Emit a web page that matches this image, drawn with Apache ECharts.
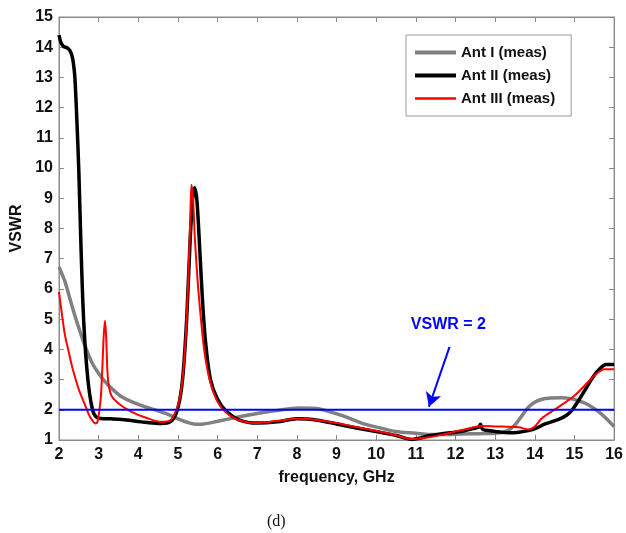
<!DOCTYPE html>
<html>
<head>
<meta charset="utf-8">
<script src="https://cdn.jsdelivr.net/npm/echarts@6/dist/echarts.min.js"></script>
<style>
html,body{margin:0;padding:0;background:#fff;}
#c{width:626px;height:533px;}
</style>
</head>
<body>
<div id="c"></div>
<script>
// ---- data ----
const seriesNames = ['Ant I (meas)', 'Ant II (meas)', 'Ant III (meas)'];
const xTicks = [2,3,4,5,6,7,8,9,10,11,12,13,14,15,16];
const yTicks = [1,2,3,4,5,6,7,8,9,10,11,12,13,14,15];

const antI_x = [2, 2.15, 2.32, 2.49, 2.65, 2.82, 3.0, 3.24, 3.58, 4.0, 4.42, 4.75, 5.08, 5.3, 5.45, 5.65, 5.97, 6.55, 7.0, 7.5, 8.06, 8.5, 8.82, 9.2, 9.65, 10.1, 10.49, 11.0, 11.33, 11.7, 12.17, 12.6, 13.01, 13.3, 13.5, 13.7, 13.85, 14.0, 14.18, 14.4, 14.68, 14.9, 15.1, 15.3, 15.52, 15.75, 16];
const antI_y = [6.73, 6.24, 5.47, 4.75, 4.14, 3.59, 3.2, 2.82, 2.43, 2.18, 2.0, 1.85, 1.66, 1.56, 1.52, 1.53, 1.61, 1.77, 1.88, 1.98, 2.06, 2.04, 1.94, 1.78, 1.55, 1.4, 1.28, 1.22, 1.18, 1.18, 1.2, 1.21, 1.22, 1.3, 1.5, 1.85, 2.1, 2.25, 2.35, 2.39, 2.4, 2.37, 2.3, 2.2, 2.02, 1.78, 1.44];

const antII_x = [2.0, 2.05, 2.12, 2.2, 2.27, 2.32, 2.36, 2.40, 2.45, 2.50, 2.55, 2.60, 2.65, 2.70, 2.75, 2.80, 2.87, 2.95, 3.05, 3.3, 3.6, 4.08, 4.5, 4.76, 4.92, 5.04, 5.13, 5.22, 5.30, 5.37, 5.42, 5.48, 5.55, 5.62, 5.70, 5.82, 6.0, 6.22, 6.55, 7.0, 7.5, 8.0, 8.4, 9.0, 9.5, 10.07, 10.5, 10.91, 11.1, 11.33, 11.55, 11.75, 12.0, 12.2, 12.45, 12.58, 12.63, 12.68, 12.78, 13.0, 13.34, 13.6, 13.84, 14.05, 14.26, 14.6, 14.8, 14.94, 15.1, 15.27, 15.45, 15.61, 15.8, 16];
const antII_y = [14.4, 14.15, 14.02, 13.98, 13.9, 13.75, 13.5, 13.0, 11.6, 9.9, 7.6, 5.6, 4.3, 3.4, 2.75, 2.3, 1.9, 1.75, 1.71, 1.7, 1.68, 1.6, 1.55, 1.58, 1.78, 2.3, 3.2, 5.0, 7.4, 9.0, 9.35, 8.9, 7.3, 5.6, 4.2, 3.0, 2.35, 1.95, 1.66, 1.56, 1.6, 1.7, 1.68, 1.53, 1.4, 1.26, 1.15, 1.02, 1.06, 1.14, 1.18, 1.22, 1.26, 1.3, 1.38, 1.42, 1.52, 1.36, 1.32, 1.28, 1.24, 1.26, 1.31, 1.4, 1.53, 1.68, 1.82, 1.99, 2.3, 2.66, 3.05, 3.32, 3.5, 3.5];

const antIII_x = [2.0, 2.08, 2.15, 2.24, 2.32, 2.41, 2.49, 2.58, 2.66, 2.72, 2.78, 2.85, 2.91, 2.97, 3.02, 3.06, 3.1, 3.13, 3.16, 3.19, 3.22, 3.26, 3.33, 3.5, 3.83, 4.25, 4.58, 4.8, 4.96, 5.05, 5.13, 5.2, 5.26, 5.31, 5.34, 5.38, 5.43, 5.5, 5.58, 5.66, 5.78, 5.95, 6.15, 6.5, 7.0, 7.56, 8.0, 8.4, 9.0, 9.24, 10.07, 10.5, 10.91, 11.33, 11.75, 12.17, 12.67, 13.0, 13.59, 13.84, 14.0, 14.18, 14.52, 15.02, 15.52, 15.77, 16];
const antIII_y = [5.9, 5.1, 4.47, 3.95, 3.48, 3.05, 2.71, 2.4, 2.15, 1.95, 1.77, 1.63, 1.55, 1.6, 2.0, 2.5, 3.6, 4.5, 4.95, 4.4, 3.3, 2.75, 2.45, 2.21, 1.93, 1.71, 1.6, 1.64, 1.99, 2.4, 3.2, 4.5, 6.3, 8.3, 9.45, 9.0, 7.6, 6.2, 5.0, 4.0, 3.1, 2.4, 1.99, 1.68, 1.56, 1.64, 1.7, 1.68, 1.56, 1.5, 1.28, 1.16, 1.03, 1.09, 1.2, 1.33, 1.46, 1.45, 1.42, 1.35, 1.45, 1.72, 2.02, 2.49, 3.15, 3.34, 3.34];

const refLine_x = [2, 16];
const refLine_y = [2, 2];
const refLabel = 'VSWR = 2';
const refLabelPos = [11.82, 4.82];
const arrowFrom = [11.85, 4.08];
const arrowTo = [11.33, 2.1];

const zip = (xs, ys) => xs.map((x, i) => [x, ys[i]]);

const axisGray = '#8a8a8a';
const colors = ['#808080', '#000000', '#ff0000'];
const widths = [3.5, 3.5, 2];
const tickFont = {fontFamily: 'Liberation Sans, Arial, sans-serif', fontWeight: 'bold', fontSize: 16, color: '#111'};

const chart = echarts.init(document.getElementById('c'), null, {renderer: 'canvas'});
chart.setOption({
  animation: false,
  backgroundColor: '#fff',
  title: {
    text: '(d)',
    left: 262, top: 509,
    textStyle: {fontFamily: 'Liberation Serif, Times New Roman, serif', fontWeight: 'normal', fontSize: 16, color: '#111'}
  },
  grid: {left: 59, right: 10, top: 17, bottom: 93, show: true, borderColor: axisGray, borderWidth: 1},
  legend: {
    data: seriesNames.map((n, i) => ({name: n, lineStyle: {width: widths[i] + 0.5, color: colors[i]}})),
    orient: 'vertical',
    left: 406, top: 35,
    padding: [10, 16, 10, 7],
    itemGap: 8,
    itemWidth: 41, itemHeight: 14,
    backgroundColor: '#fff',
    borderColor: '#999', borderWidth: 1,
    itemStyle: {opacity: 0},
    textStyle: {fontFamily: 'Liberation Sans, Arial, sans-serif', fontWeight: 'bold', fontSize: 15, color: '#111'}
  },
  xAxis: [{
    type: 'value', min: 2, max: 16, interval: 1,
    name: 'frequency, GHz', nameLocation: 'middle', nameGap: 30,
    nameTextStyle: {fontFamily: 'Liberation Sans, Arial, sans-serif', fontWeight: 'bold', fontSize: 16, color: '#111'},
    axisLine: {show: true, lineStyle: {color: axisGray}},
    axisTick: {show: true, inside: true, length: 5, lineStyle: {color: axisGray}},
    axisLabel: Object.assign({margin: 7}, tickFont),
    splitLine: {show: false}
  }, {
    type: 'value', min: 2, max: 16, interval: 1, position: 'top',
    axisLine: {show: true, lineStyle: {color: axisGray}},
    axisTick: {show: true, inside: true, length: 5, lineStyle: {color: axisGray}},
    axisLabel: {show: false}, splitLine: {show: false}
  }],
  yAxis: [{
    type: 'value', min: 1, max: 15, interval: 1,
    name: 'VSWR', nameLocation: 'middle', nameGap: 32,
    nameTextStyle: {fontFamily: 'Liberation Sans, Arial, sans-serif', fontWeight: 'bold', fontSize: 16, color: '#111'},
    axisLine: {show: true, lineStyle: {color: axisGray}},
    axisTick: {show: true, inside: true, length: 5, lineStyle: {color: axisGray}},
    axisLabel: Object.assign({margin: 6}, tickFont),
    splitLine: {show: false}
  }, {
    type: 'value', min: 1, max: 15, interval: 1, position: 'right',
    axisLine: {show: true, lineStyle: {color: axisGray}},
    axisTick: {show: true, inside: true, length: 5, lineStyle: {color: axisGray}},
    axisLabel: {show: false}, splitLine: {show: false}
  }],
  series: [
    {name: seriesNames[0], type: 'line', data: zip(antI_x, antI_y), symbol: 'none', smooth: 0.3,
     lineStyle: {color: colors[0], width: widths[0]}, itemStyle: {color: colors[0]}, z: 2},
    {name: seriesNames[1], type: 'line', data: zip(antII_x, antII_y), symbol: 'none', smooth: 0.3,
     lineStyle: {color: colors[1], width: widths[1]}, itemStyle: {color: colors[1]}, z: 3},
    {name: seriesNames[2], type: 'line', data: zip(antIII_x, antIII_y), symbol: 'none', smooth: 0.3,
     lineStyle: {color: colors[2], width: widths[2]}, itemStyle: {color: colors[2]}, z: 4},
    {name: 'ref', type: 'line', data: zip(refLine_x, refLine_y), symbol: 'none',
     lineStyle: {color: '#0000ff', width: 2}, z: 5, silent: true,
     markLine: {
       silent: true, symbol: ['none', 'arrow'], symbolSize: [12, 14],
       lineStyle: {color: '#0000ff', width: 2, type: 'solid'},
       label: {show: false},
       data: [[{coord: arrowFrom}, {coord: arrowTo}]]
     },
     markPoint: {
       silent: true, symbol: 'circle', symbolSize: 0,
       label: {show: true, formatter: refLabel, color: '#0000ff', fontFamily: 'Liberation Sans, Arial, sans-serif', fontWeight: 'bold', fontSize: 16, position: 'inside'},
       data: [{coord: refLabelPos}]
     }
    }
  ]
});
</script>
</body>
</html>
